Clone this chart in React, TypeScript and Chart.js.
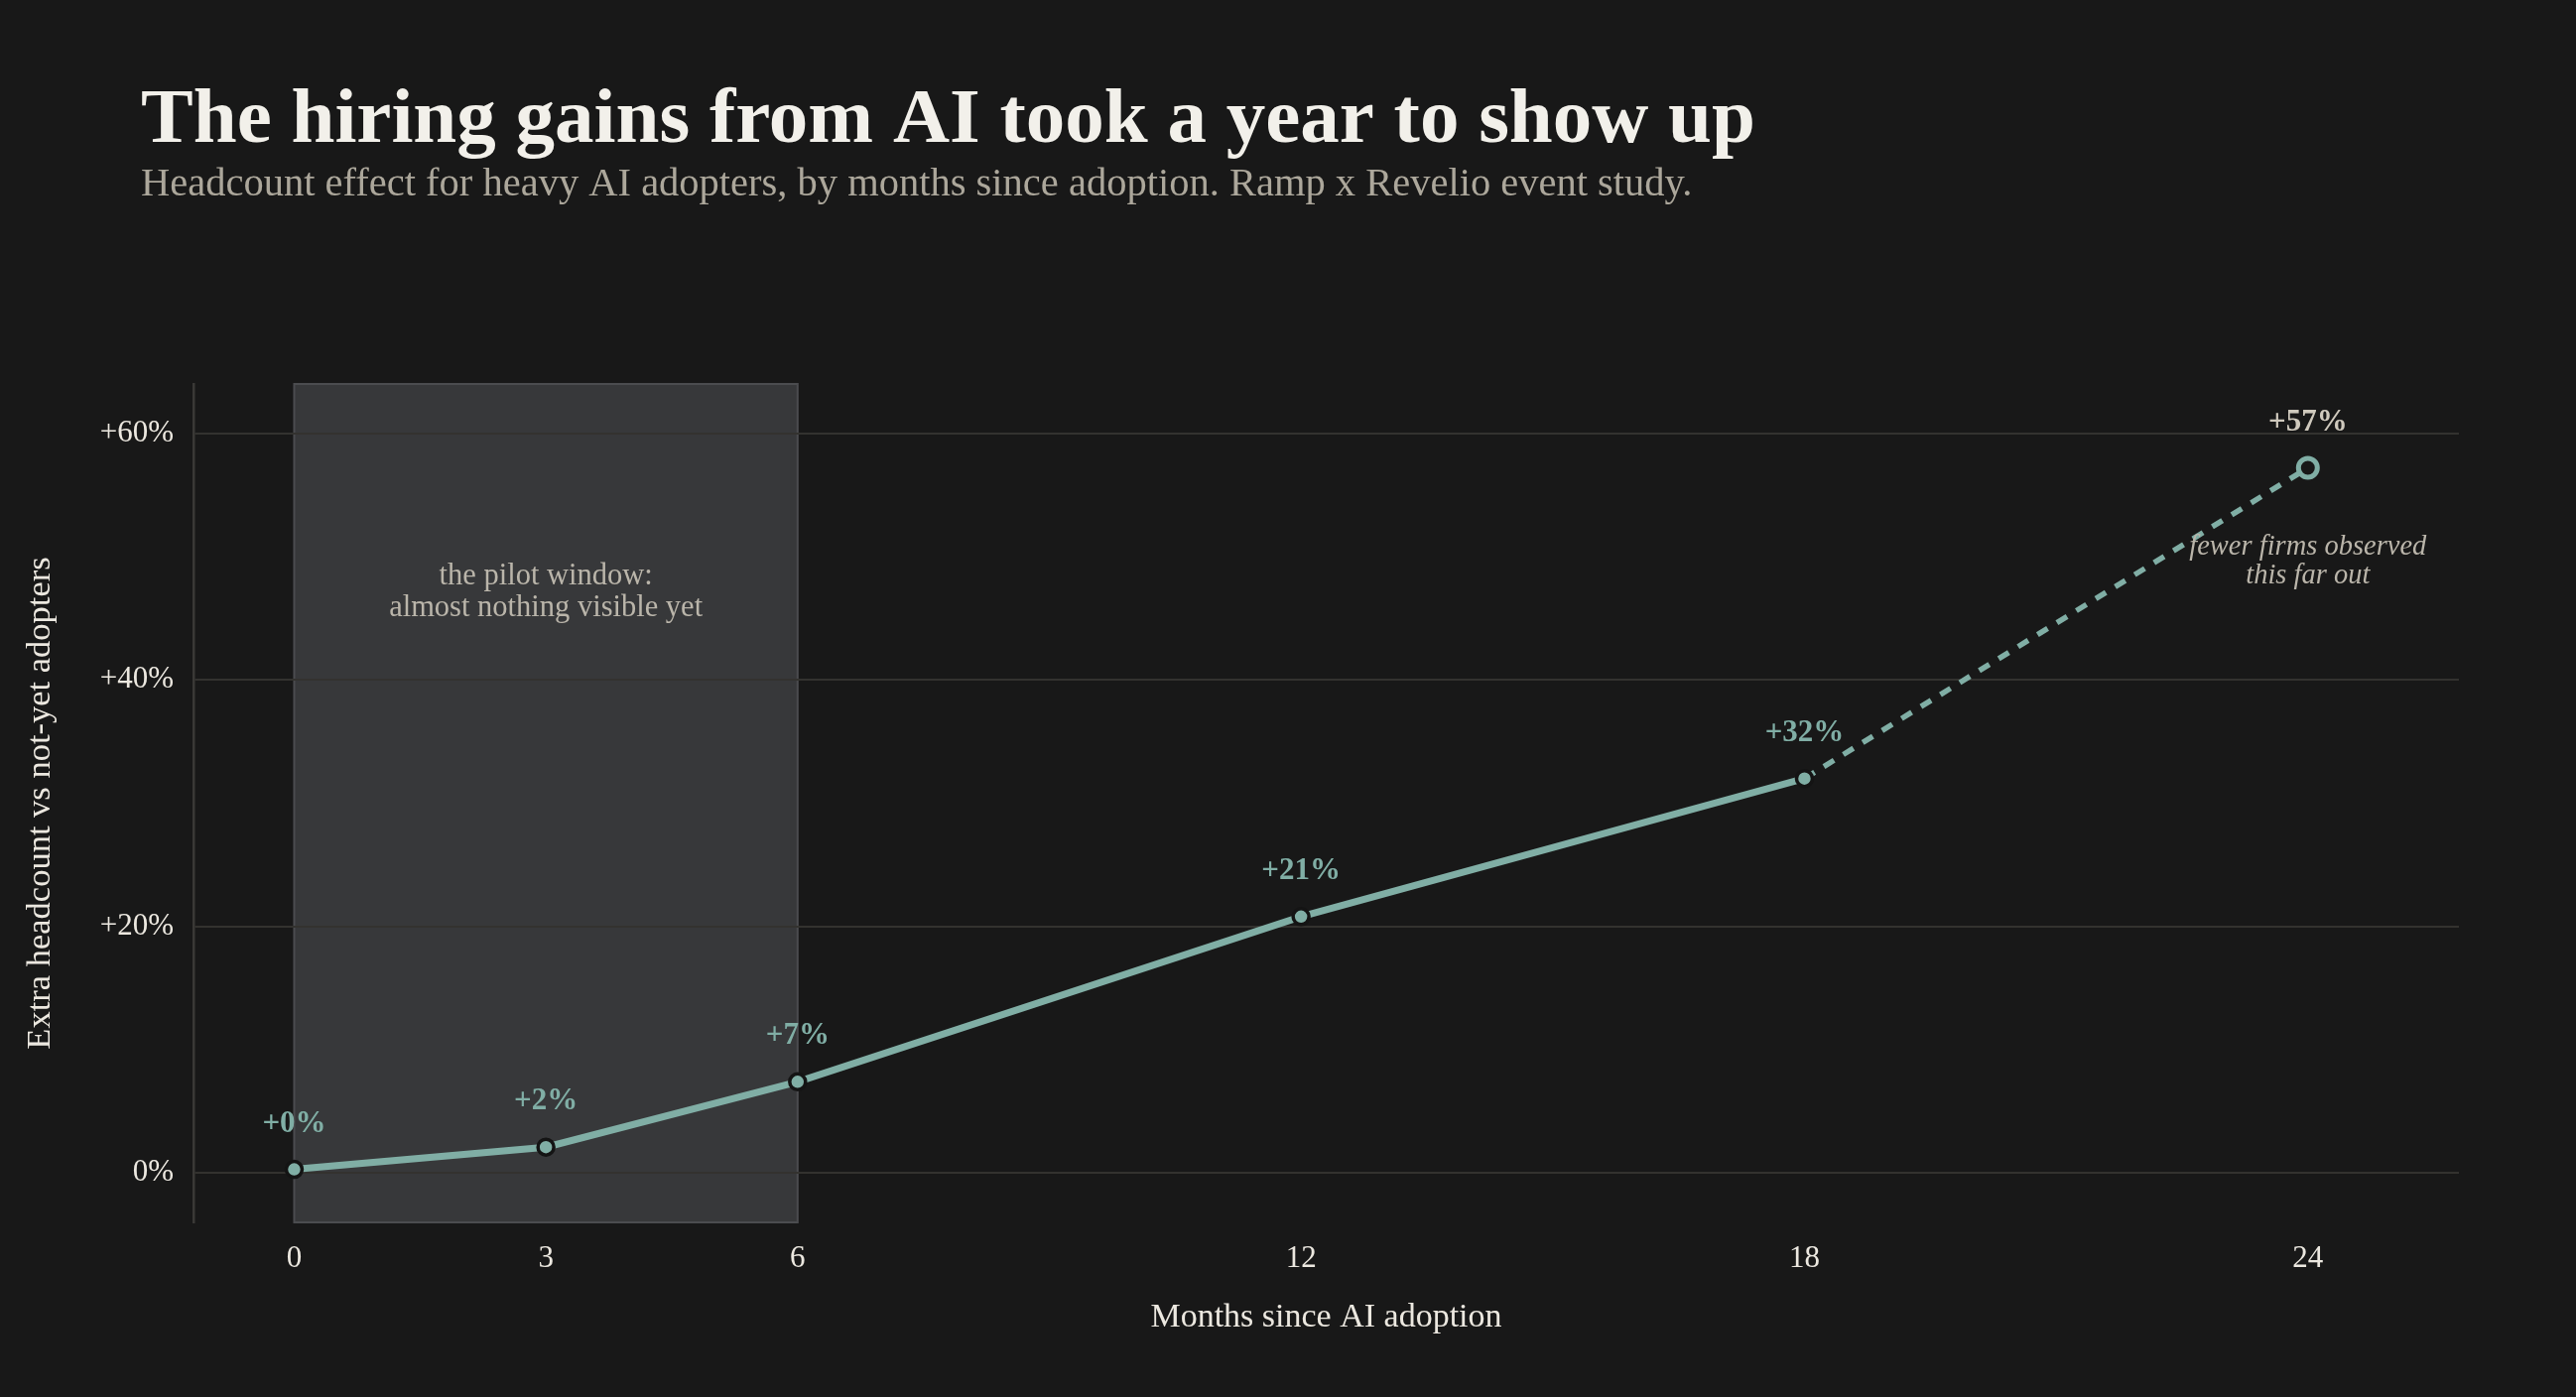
import { useEffect, useRef } from 'react';
import { Chart, registerables, type ChartConfiguration, type Plugin } from 'chart.js';

Chart.register(...registerables);

const SERIF = "'Liberation Serif', 'DejaVu Serif', serif";
const BG = '#181818';
const TEAL = '#80aea5';
const GRID = '#33322f';
const AXIS = '#3a3936';
const BOX_FILL = '#37383a';
const BOX_EDGE = '#4b4c4f';
const TEXT = '#ece8e0';
const MUTED = '#bab5aa';

const TITLE = 'The hiring gains from AI took a year to show up';
const SUBTITLE = 'Headcount effect for heavy AI adopters, by months since adoption. Ramp x Revelio event study.';

const MONTHS = [0, 3, 6, 12, 18, 24];
const EFFECT = [0.3, 2.1, 7.4, 20.8, 32.0, 57.2];
const POINT_LABELS = ['+0%', '+2%', '+7%', '+21%', '+32%', '+57%'];
const X_TICKS = [0, 3, 6, 12, 18, 24];
const Y_TICKS = [0, 20, 40, 60];
const PILOT_WINDOW = [0, 6];
const DASH_FROM = 4; // segments after 18 months are dashed

const overlay: Plugin<'line'> = {
  id: 'overlay',
  beforeDraw(chart) {
    const { ctx, chartArea, scales } = chart;
    const x0 = scales.x.getPixelForValue(PILOT_WINDOW[0]);
    const x1 = scales.x.getPixelForValue(PILOT_WINDOW[1]);
    ctx.save();
    ctx.fillStyle = BOX_FILL;
    ctx.fillRect(x0, chartArea.top, x1 - x0, chartArea.bottom - chartArea.top);
    ctx.strokeStyle = BOX_EDGE;
    ctx.lineWidth = 2;
    ctx.strokeRect(x0, chartArea.top, x1 - x0, chartArea.bottom - chartArea.top);
    ctx.restore();
  },
  afterDatasetsDraw(chart) {
    const { ctx, scales } = chart;
    const meta = chart.getDatasetMeta(0);
    ctx.save();
    ctx.textAlign = 'center';
    ctx.textBaseline = 'middle';

    // value labels
    ctx.font = `bold 31px ${SERIF}`;
    meta.data.forEach((pt, i) => {
      ctx.fillStyle = i === POINT_LABELS.length - 1 ? '#cfc9bd' : TEAL;
      ctx.fillText(POINT_LABELS[i], pt.x, pt.y - 46);
    });

    // pilot window note
    ctx.fillStyle = MUTED;
    ctx.font = `30.5px ${SERIF}`;
    const px = scales.x.getPixelForValue(3);
    const py = scales.y.getPixelForValue(48.4);
    ctx.fillText('the pilot window:', px, py);
    ctx.fillText('almost nothing visible yet', px, py + 32);

    // thin-sample note
    ctx.font = `italic 28.5px ${SERIF}`;
    const fx = scales.x.getPixelForValue(24);
    const fy = scales.y.getPixelForValue(50.8);
    ctx.fillText('fewer firms observed', fx, fy);
    ctx.fillText('this far out', fx, fy + 29);

    // heading
    ctx.textAlign = 'left';
    ctx.textBaseline = 'alphabetic';
    ctx.fillStyle = '#f2f0ea';
    ctx.font = `bold 79px ${SERIF}`;
    ctx.fillText(TITLE, 142, 143);
    ctx.fillStyle = '#aca79b';
    ctx.font = `40.5px ${SERIF}`;
    ctx.fillText(SUBTITLE, 142, 197);
    ctx.restore();
  },
};

export default function App() {
  const canvasRef = useRef<HTMLCanvasElement>(null);

  useEffect(() => {
    if (!canvasRef.current) return;
    const last = MONTHS.length - 1;

    const config: ChartConfiguration<'line'> = {
      type: 'line',
      data: {
        datasets: [
          {
            data: MONTHS.map((m, i) => ({ x: m, y: EFFECT[i] })),
            borderColor: TEAL,
            borderWidth: 7,
            tension: 0,
            segment: {
              borderDash: (c) => (c.p0DataIndex >= DASH_FROM ? [12, 11] : undefined),
              borderWidth: (c) => (c.p0DataIndex >= DASH_FROM ? 5.5 : 7),
            },
            pointRadius: MONTHS.map((_, i) => (i === last ? 9.5 : 8)),
            pointBorderWidth: MONTHS.map((_, i) => (i === last ? 5 : 3.5)),
            pointBackgroundColor: MONTHS.map((_, i) => (i === last ? BG : TEAL)),
            pointBorderColor: MONTHS.map((_, i) => (i === last ? TEAL : '#141414')),
          },
        ],
      },
      options: {
        animation: false,
        responsive: true,
        maintainAspectRatio: false,
        layout: { padding: { top: 387, right: 118, bottom: 0, left: 0 } },
        plugins: {
          legend: { display: false },
          tooltip: { enabled: false },
        },
        scales: {
          x: {
            type: 'linear',
            min: -1.2,
            max: 25.8,
            afterBuildTicks: (s) => { s.ticks = X_TICKS.map((v) => ({ value: v })); },
            afterFit: (s) => { s.height = 176; },
            grid: { display: false, drawTicks: false },
            border: { display: false },
            ticks: { color: TEXT, padding: 18, font: { family: SERIF, size: 31 } },
            title: {
              display: true,
              text: 'Months since AI adoption',
              color: TEXT,
              font: { family: SERIF, size: 34 },
              padding: { top: 0, bottom: 60 },
            },
          },
          y: {
            min: -4,
            max: 64,
            afterBuildTicks: (s) => { s.ticks = Y_TICKS.map((v) => ({ value: v })); },
            afterFit: (s) => { s.width = 195; },
            grid: { color: GRID, lineWidth: 2, drawTicks: false },
            border: { display: true, color: AXIS, width: 2.5 },
            ticks: {
              color: TEXT,
              padding: 20,
              font: { family: SERIF, size: 31 },
              callback: (v) => (Number(v) === 0 ? '0%' : `+${v}%`),
            },
            title: {
              display: true,
              text: 'Extra headcount vs not-yet adopters',
              color: TEXT,
              font: { family: SERIF, size: 34.5 },
              padding: { top: 20, bottom: 0 },
            },
          },
        },
      },
      plugins: [overlay],
    };

    const chart = new Chart(canvasRef.current, config);
    return () => { chart.destroy(); };
  }, []);

  return (
    <div style={{ position: 'fixed', left: 0, top: 0, width: '100vw', height: '100vh', background: BG }}>
      <canvas ref={canvasRef} />
    </div>
  );
}
